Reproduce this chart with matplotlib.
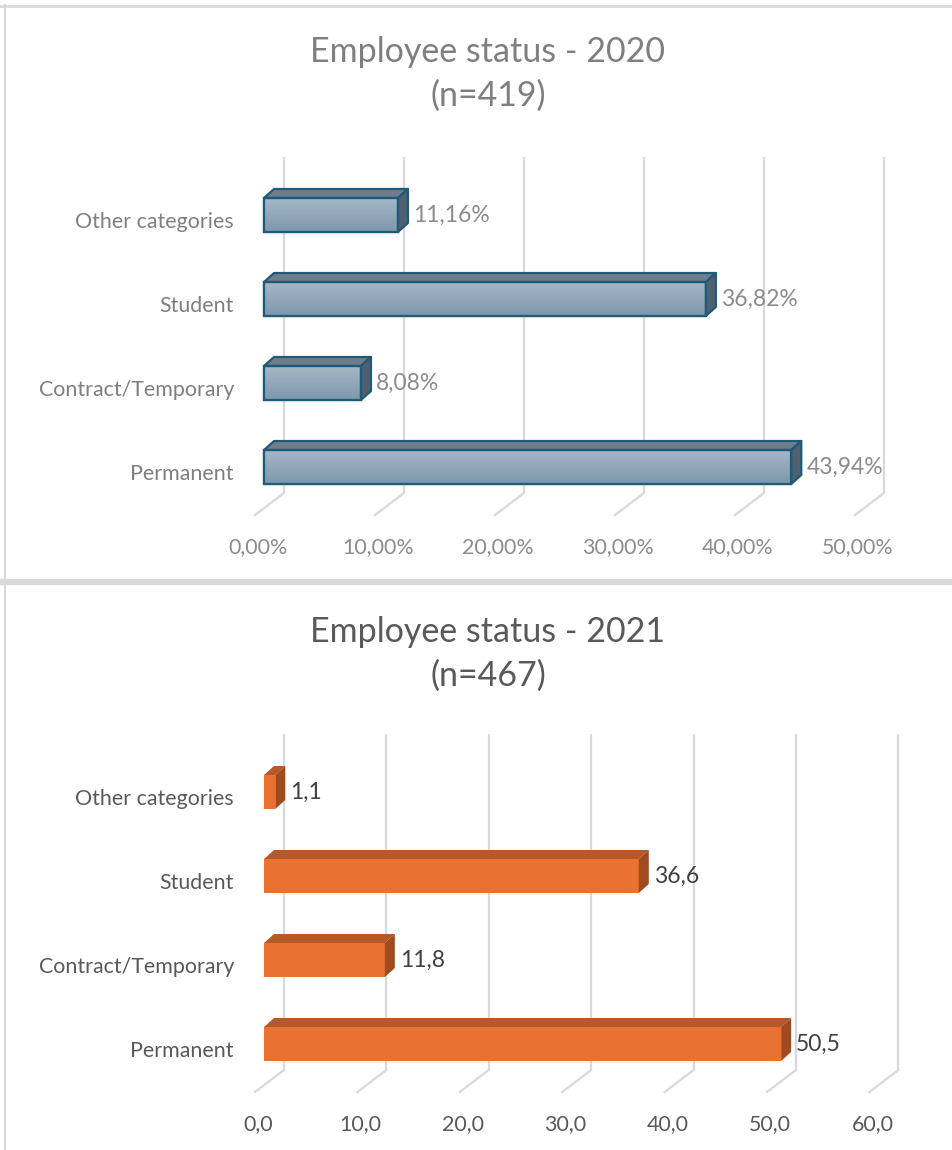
import numpy as np
import matplotlib
matplotlib.use("Agg")
import matplotlib.pyplot as plt
from matplotlib.patches import Polygon, Rectangle
from matplotlib.lines import Line2D

plt.rcParams['font.family'] = ['Lato', 'DejaVu Sans']

# data
categories = ["Permanent", "Contract/Temporary", "Student", "Other categories"]
values_2020 = [43.94, 8.08, 36.82, 11.16]
values_2021 = [50.5, 11.8, 36.6, 1.1]
ticks_2020 = [0, 10, 20, 30, 40, 50]
ticks_2021 = [0, 10, 20, 30, 40, 50, 60]
title_2020 = "Employee status - 2020\n(n=419)"
title_2021 = "Employee status - 2021\n(n=467)"

W, H = 952, 1150
fig = plt.figure(figsize=(W / 100, H / 100), dpi=100)


def fig_line(x0, y0, x1, y1, lw, color):
    fig.add_artist(Line2D([x0 / W, x1 / W], [1 - y0 / H, 1 - y1 / H],
                          transform=fig.transFigure, lw=lw, color=color))


def panel(top, values, ticks, px_x, tick_fmt, label_fmt, style):
    origin_x = 264          # pixel of value 0 on bar front
    origin_y = top + 462    # pixel centre of first category
    px_y = 84.0
    left, right, atop, bottom = 10, 945, top + 130, top + 560
    ax = fig.add_axes([left / W, 1 - bottom / H, (right - left) / W, (bottom - atop) / H])
    xlim = ((left - origin_x) / px_x, (right - origin_x) / px_x)
    ylim = ((origin_y - bottom) / px_y, (origin_y - atop) / px_y)
    ax.axis('off')

    # 3d offsets in data units
    gx = 20 / px_x
    fx_front = -9 / px_x
    dx, dy = 10 / px_x, 9 / px_y
    y_back = -26 / px_y
    y_front = -48 / px_y
    y_top = (3 * px_y + 58) / px_y  # top of back wall
    grid_c = "#d9d9d9"
    for t in ticks:
        ax.plot([t + gx, t + gx], [y_back, y_top], color=grid_c, lw=1.6, zorder=1,
                solid_capstyle='butt')
        ax.plot([t + gx, t + fx_front], [y_back, y_front], color=grid_c, lw=1.6, zorder=1)
        ax.text(t + fx_front + 3 / px_x, -80 / px_y, tick_fmt(t), ha='center', va='center',
                fontsize=15.4, color=style['tick'])

    h = 34 / px_y
    for i, (cat, v) in enumerate(zip(categories, values)):
        y0, y1 = i - h / 2, i + h / 2
        front = Rectangle((0, y0), v, h, facecolor=style['front'],
                          edgecolor=style['edge'], lw=style['lw'], zorder=3)
        ax.add_patch(front)
        if style.get('grad'):
            g = np.linspace(0, 1, 64).reshape(-1, 1)
            im = ax.imshow(g, cmap=style['grad'], extent=(0, v, y0, y1), aspect='auto',
                           origin='upper', zorder=3, interpolation='bilinear')
            im.set_clip_path(front)
            ax.add_patch(Rectangle((0, y0), v, h, facecolor='none',
                                   edgecolor=style['edge'], lw=style['lw'], zorder=4))
        ax.add_patch(Polygon([(0, y1), (v, y1), (v + dx, y1 + dy), (dx, y1 + dy)],
                             closed=True, facecolor=style['top'], edgecolor=style['edge'],
                             lw=style['lw'], zorder=3, joinstyle='round'))
        ax.add_patch(Polygon([(v, y0), (v, y1), (v + dx, y1 + dy), (v + dx, y0 + dy)],
                             closed=True, facecolor=style['side'], edgecolor=style['edge'],
                             lw=style['lw'], zorder=3, joinstyle='round'))
        ax.text(v + dx + 5 / px_x, i + 0 / px_y, label_fmt(v), ha='left', va='center',
                fontsize=16.5, color=style['label'], zorder=5)
        ax.text(-30 / px_x, i - 7 / px_y, cat, ha='right', va='center', fontsize=15.4,
                color=style['cat'])

    ax.set_xlim(xlim)
    ax.set_ylim(ylim)
    return ax


blue = matplotlib.colors.LinearSegmentedColormap.from_list("b", ["#a6b8c7", "#7d97ab"])
style_2020 = dict(front="#93a9ba", grad=blue, top="#6e7d8b", side="#4f6070", edge="#215a78",
                  lw=1.6, tick="#8c8c8c", label="#8c8c8c", cat="#7f7f7f")
style_2021 = dict(front="#e97132", top="#b55a27", side="#a04a1f", edge="none",
                  lw=0, tick="#595959", label="#404040", cat="#595959")

panel(5, values_2020, ticks_2020, 12.0,
      lambda t: f"{t:.2f}%".replace(".", ","),
      lambda v: f"{v:.2f}%".replace(".", ","), style_2020)
panel(582, values_2021, ticks_2021, 10.24,
      lambda t: f"{t:.1f}".replace(".", ","),
      lambda v: f"{v:.1f}".replace(".", ","), style_2021)

fig.text(488 / W, 1 - 74 / H, title_2020, ha='center', va='center', fontsize=24.5,
         color="#7f7f7f", linespacing=1.45)
fig.text(488 / W, 1 - 654 / H, title_2021, ha='center', va='center', fontsize=24.5,
         color="#595959", linespacing=1.45)

# panel borders
fig_line(0, 6, W, 6, 2.0, "#d9d9d9")
fig_line(5, 5, 5, 580, 1.5, "#d9d9d9")
fig_line(0, 582, W, 582, 4.5, "#d9d9d9")
fig_line(5, 584, 5, H, 1.5, "#d9d9d9")

fig.savefig("out.png", dpi=100)
